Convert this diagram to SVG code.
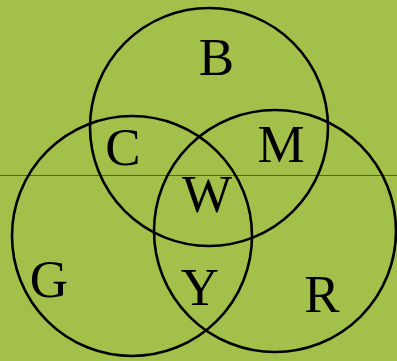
<svg xmlns="http://www.w3.org/2000/svg" width="397" height="361" viewBox="0 0 397 361">
<style>
.c{fill:none;stroke:#000;stroke-width:2.6}
.t{font-family:"Liberation Serif","Times New Roman",serif;font-size:53px;fill:#000;text-anchor:middle}
</style>
<rect x="0" y="0" width="397" height="361" fill="#a3c14a"/>
<line x1="0" y1="175.5" x2="397" y2="175.5" stroke="#55566a" stroke-width="1"/>
<g id="circle-B"><circle class="c" cx="209" cy="127" r="119"/></g>
<g id="circle-G"><circle class="c" cx="132" cy="236" r="120"/></g>
<g id="circle-R"><circle class="c" cx="275" cy="231" r="121"/></g>
<g id="labels">
<text class="t" x="216.5" y="75">B</text>
<text class="t" x="123" y="165">C</text>
<text class="t" x="281" y="162">M</text>
<text class="t" x="207" y="212">W</text>
<text class="t" x="49" y="297">G</text>
<text class="t" x="200" y="305">Y</text>
<text class="t" x="322" y="312">R</text>
</g>
</svg>
